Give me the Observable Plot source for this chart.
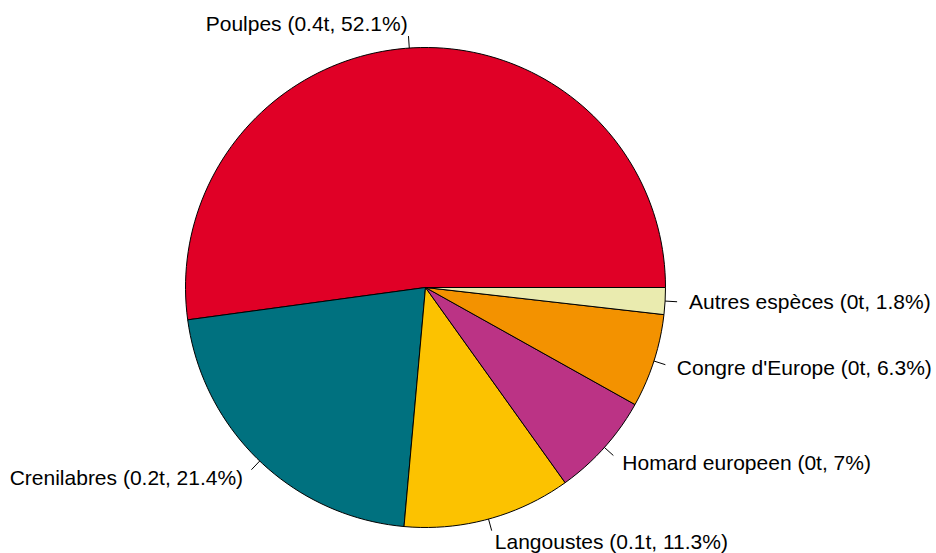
<!DOCTYPE html>
<html>
<head>
<meta charset="utf-8">
<script src="https://cdn.jsdelivr.net/npm/d3@7"></script>
<script src="https://cdn.jsdelivr.net/npm/@observablehq/plot@0.6"></script>
<style>
  html, body { margin: 0; padding: 0; background: #fff; }
</style>
</head>
<body>
<div id="chart"></div>
<script>
const species = ["Poulpes", "Crenilabres", "Langoustes", "Homard europeen", "Congre d'Europe", "Autres espèces"];
const tonnes = ["0.4", "0.2", "0.1", "0", "0", "0"];
const percent = [52.1, 21.4, 11.3, 7, 6.3, 1.8];
const colors = ["#E00026", "#00717F", "#FCC200", "#BB3385", "#F39200", "#EAEBAF"];

const W = 936, H = 553;
const cx = 425, cy = 287, R = 240;

const total = d3.sum(percent);
const polys = [];
const labels = [];
const ticks = [];
let acc = 0;
species.forEach((s, i) => {
  const f0 = acc / total, f1 = (acc + percent[i]) / total;
  acc += percent[i];
  const n = Math.max(2, Math.floor(200 * (f1 - f0)));
  const pts = [{species: s, x: 0, y: 0}];
  for (let k = 0; k < n; k++) {
    const a = 2 * Math.PI * (f0 + (f1 - f0) * k / (n - 1));
    pts.push({species: s, x: Math.cos(a), y: Math.sin(a)});
  }
  pts.push({species: s, x: 0, y: 0});
  polys.push(...pts);
  const am = 2 * Math.PI * (f0 + f1) / 2;
  const c = Math.cos(am), sn = Math.sin(am);
  ticks.push({x1: c, y1: sn, x2: 1.05 * c, y2: 1.05 * sn});
  labels.push({x: 1.1 * c, y: 1.1 * sn, anchor: c < 0 ? "end" : "start",
    text: `${s} (${tonnes[i]}t, ${percent[i]}%)`});
});

const chart = Plot.plot({
  width: W, height: H,
  margin: 0,
  x: {domain: [-cx / R, (W - cx) / R], range: [0, W], axis: null},
  y: {domain: [-(H - cy) / R, cy / R], range: [H, 0], axis: null},
  color: {domain: species, range: colors},
  style: {fontFamily: "'Liberation Sans', Arial, sans-serif", background: "#fff"},
  marks: [
    Plot.line(polys, {x: "x", y: "y", z: "species", fill: "species", stroke: "black", strokeWidth: 1, curve: "linear"}),
    Plot.link(ticks, {x1: "x1", y1: "y1", x2: "x2", y2: "y2", stroke: "black", strokeWidth: 1}),
    Plot.text(labels.filter(d => d.anchor === "end"), {x: "x", y: "y", text: "text", textAnchor: "end", fontSize: 21, fill: "black"}),
    Plot.text(labels.filter(d => d.anchor === "start"), {x: "x", y: "y", text: "text", textAnchor: "start", fontSize: 21, fill: "black"})
  ]
});
document.getElementById("chart").appendChild(chart);
</script>
</body>
</html>
